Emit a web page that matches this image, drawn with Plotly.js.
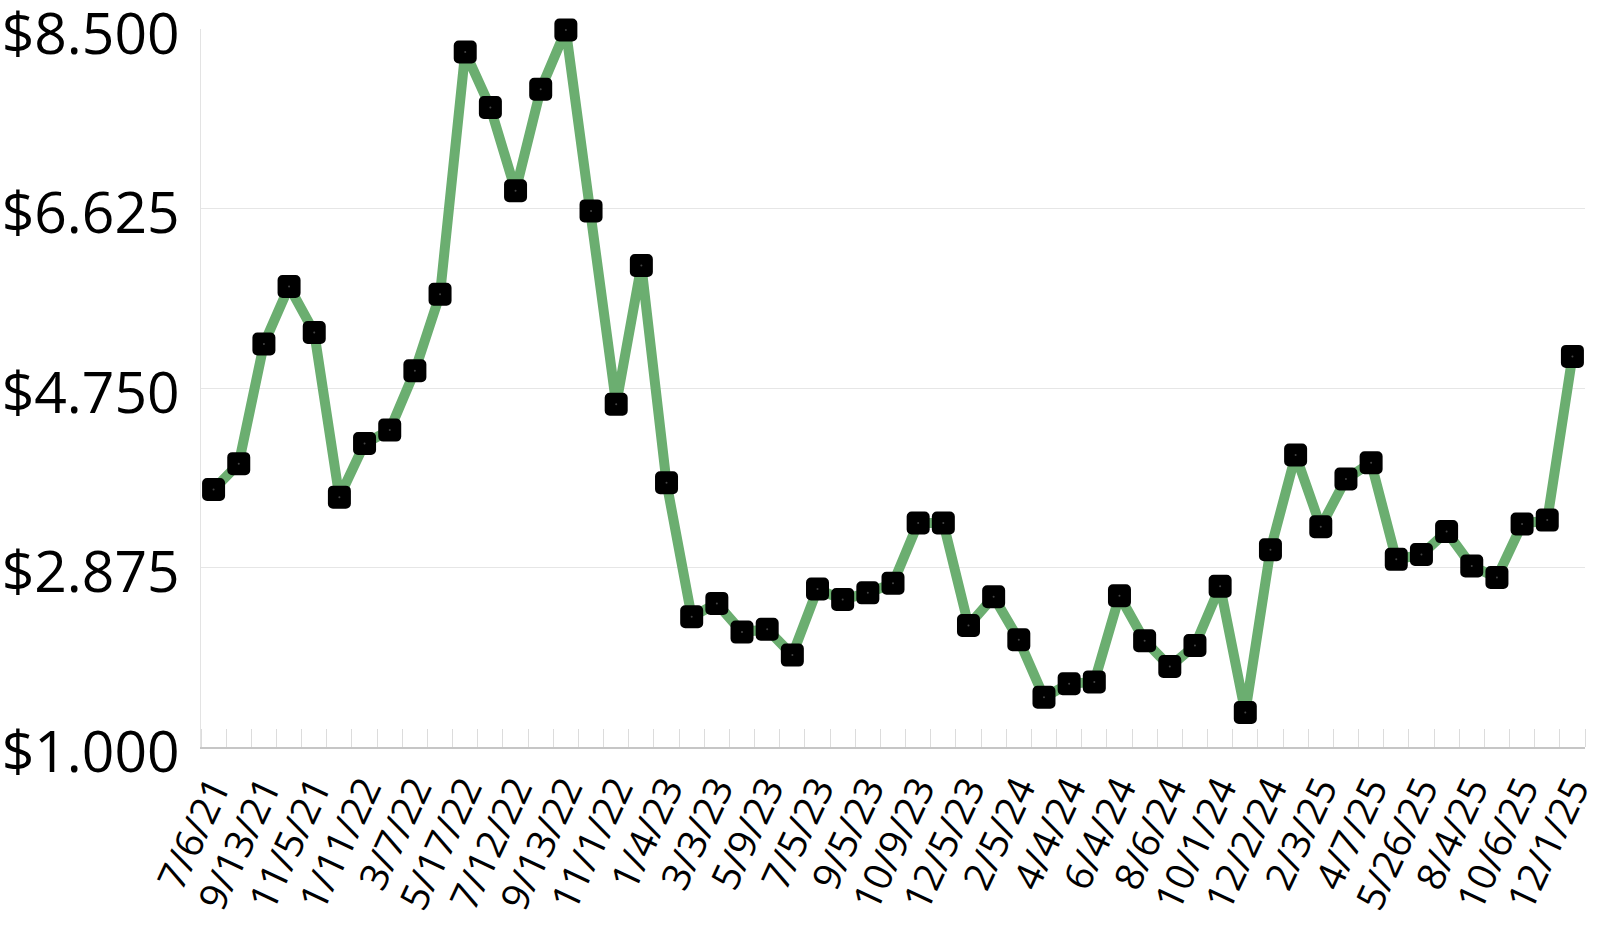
<!DOCTYPE html>
<html>
<head>
<meta charset="utf-8">
<script src="https://cdn.plot.ly/plotly-3.0.1.min.js"></script>
<style>html,body{margin:0;padding:0;background:#fff;}</style>
</head>
<body>
<div id="chart" style="width:1601px;height:927px;"></div>
<script>
// Tick labels (every second observation is labelled)
const dateLabels = ["7/6/21","9/13/21","11/5/21","1/11/22","3/7/22","5/17/22","7/12/22","9/13/22",
  "11/1/22","1/4/23","3/3/23","5/9/23","7/5/23","9/5/23","10/9/23","12/5/23","2/5/24","4/4/24",
  "6/4/24","8/6/24","10/1/24","12/2/24","2/3/25","4/7/25","5/26/25","8/4/25","10/6/25","12/1/25"];

// Price per observation (55 observations)
const prices = [3.69,3.96,5.21,5.81,5.33,3.61,4.17,4.31,4.93,5.73,
  8.26,7.68,6.81,7.87,8.49,6.60,4.58,6.03,3.76,2.36,
  2.50,2.20,2.23,1.96,2.65,2.54,2.61,2.71,3.34,3.34,
  2.27,2.57,2.12,1.52,1.66,1.68,2.58,2.11,1.84,2.06,
  2.68,1.36,3.06,4.05,3.30,3.80,3.97,2.96,3.01,3.25,
  2.89,2.77,3.33,3.37,5.08];

const yTickVals = [1, 2.875, 4.75, 6.625, 8.5];
const yTickText = ["$1.000", "$2.875", "$4.750", "$6.625", "$8.500"];

const xIdx = prices.map((_, i) => i);
const xTickVals = dateLabels.map((_, i) => i * 2);

const traces = [
  {
    x: xIdx, y: prices, type: "scatter", mode: "lines+markers",
    line: {color: "rgb(107,174,112)", width: 10},
    marker: {symbol: "square", size: 13, color: "#000", line: {color: "#000", width: 10}},
    cliponaxis: false, hoverinfo: "skip"
  },
  {
    x: xIdx, y: prices, type: "scatter", mode: "markers",
    marker: {symbol: "circle", size: 2, color: "#444"},
    cliponaxis: false, hoverinfo: "skip"
  }
];

const layout = {
  width: 1601, height: 927,
  margin: {l: 201, r: 16, t: 29, b: 180, pad: 0},
  showlegend: false,
  paper_bgcolor: "#fff", plot_bgcolor: "#fff",
  font: {family: "Open Sans, sans-serif", color: "#000"},
  xaxis: {
    range: [-0.5, 54.5], tickmode: "array", tickvals: xTickVals, ticktext: dateLabels,
    tickangle: -65, ticks: "", showgrid: false, zeroline: false,
    showline: true, linecolor: "#c6c6c6", linewidth: 1.5,
    tickfont: {family: "Open Sans, sans-serif", size: 39, color: "#000"},
    ticklabelstandoff: 2, ticklabeloverflow: "allow",
    minor: {tickmode: "linear", tick0: -0.5, dtick: 1, ticks: "inside", ticklen: 18,
            tickcolor: "#dcdcdc", tickwidth: 1, showgrid: false}
  },
  yaxis: {
    range: [1, 8.5], tickmode: "array", tickvals: yTickVals, ticktext: yTickText,
    ticks: "", showgrid: true, gridcolor: "#e6e6e6", gridwidth: 1, zeroline: false,
    showline: true, linecolor: "#e3e3e3", linewidth: 1,
    tickfont: {family: "Open Sans, sans-serif", size: 57, color: "#000"},
    ticklabelstandoff: 9, ticklabeloverflow: "allow"
  }
};

Plotly.newPlot("chart", traces, layout, {staticPlot: true}).then(function () {
  document.querySelectorAll("#chart .scatterlayer .trace:first-child .points path").forEach(function (p) {
    p.style.strokeLinejoin = "round";
  });
  // labels in the reference sit slightly below their gridlines
  document.querySelectorAll("#chart .ytick text").forEach(function (t) {
    const y = parseFloat(t.getAttribute("y") || "0");
    t.setAttribute("y", y + 5);
  });
});
</script>
</body>
</html>
